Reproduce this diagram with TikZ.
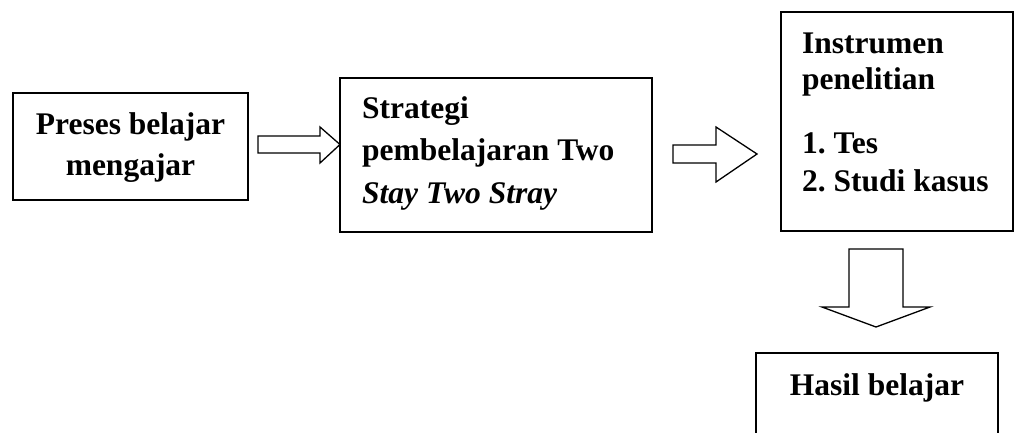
\documentclass[tikz,border=0pt]{standalone}
\usepackage{fontspec}
\setmainfont{Liberation Serif}
\frenchspacing
\begin{document}
\begin{tikzpicture}[x=1pt,y=-1pt,
  boxst/.style={draw, line width=1.6pt, inner sep=0pt, outer sep=0pt},
  txt/.style={font=\fontsize{31.5}{36}\selectfont\bfseries, inner sep=0pt, anchor=base west},
  ctxt/.style={font=\fontsize{31.5}{36}\selectfont\bfseries, inner sep=0pt, anchor=base},
  blk/.style={draw, line width=1.3pt, fill=white, line join=miter}]
\useasboundingbox (0,0) rectangle (1015,432);
\clip (0,0) rectangle (1015,432);
% boxes
\node[boxst, minimum width=235pt, minimum height=107pt] (b1) at (130.5,146.5) {};
\node[boxst, minimum width=312pt, minimum height=154pt] (b2) at (496,155) {};
\node[boxst, minimum width=232pt, minimum height=219pt] (b3) at (897,121.5) {};
\node[boxst, minimum width=242pt, minimum height=87pt] (b4) at (877,396.5) {};
% texts
\node[ctxt] (t1a) at (130.5,134) {Preses belajar};
\node[ctxt] (t1b) at (130.5,175) {mengajar};
\node[txt] (t2a) at (362,118) {Strategi};
\node[txt] (t2b) at (362,160) {pembelajaran Two};
\node[txt] (t2c) at (362,203) {\itshape Stay Two Stray};
\node[txt] (t3a) at (802,53) {Instrumen};
\node[txt] (t3b) at (802,89) {penelitian};
\node[txt] (t3c) at (802,153) {1. Tes};
\node[txt] (t3d) at (802,191) {2. Studi kasus};
\node[ctxt] (t4a) at (877,395) {Hasil belajar};
% block arrows
\draw[blk] (258,136) -- (320,136) -- (320,127) -- (340,144.5) -- (320,163) -- (320,153) -- (258,153) -- cycle;
\draw[blk] (673,145) -- (716,145) -- (716,127) -- (757,154) -- (716,182) -- (716,163) -- (673,163) -- cycle;
\draw[blk] (849,249) -- (903,249) -- (903,307) -- (930,307) -- (876,327) -- (822,307) -- (849,307) -- cycle;
\end{tikzpicture}
\end{document}
